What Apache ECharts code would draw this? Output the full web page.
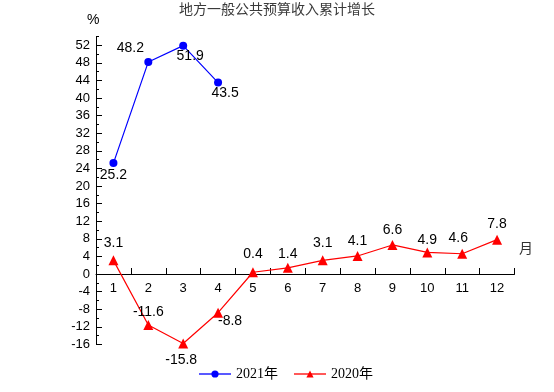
<!DOCTYPE html>
<html>
<head>
<meta charset="utf-8">
<script src="https://cdn.jsdelivr.net/npm/echarts@6/dist/echarts.min.js"></script>
<style>html,body{margin:0;padding:0;background:#fff}#c{width:554px;height:392px}</style>
</head>
<body>
<div id="c"></div>
<script>
var months = ['1','2','3','4','5','6','7','8','9','10','11','12'];
var s2021Name = '2021年';
var s2020Name = '2020年';
var s2021 = [25.2, 48.2, 51.9, 43.5];
var s2020 = [3.1, -11.6, -15.8, -8.8, 0.4, 1.4, 3.1, 4.1, 6.6, 4.9, 4.6, 7.8];
var yMajorTicks = [-16,-12,-8,-4,0,4,8,12,16,20,24,28,32,36,40,44,48,52];
var yMinorTicks = [-16,-14,-12,-10,-8,-6,-4,-2,0,2,4,6,8,10,12,14,16,18,20,22,24,26,28,30,32,34,36,38,40,42,44,46,48,50,52,54];
var yMin = -16, yMax = 54;

// label placement styles (separate from values)
var lab2021 = [
  {position:'bottom', offset:[0,-4]},
  {position:'top', offset:[-18,2]},
  {position:'bottom', offset:[7,-5]},
  {position:'bottom', offset:[7,-5]}
];
var lab2020 = [
  {position:'top', offset:[0,0]},
  {position:'top', offset:[0,4]},
  {position:'bottom', offset:[-2,0]},
  {position:'bottom', offset:[12,-9]},
  {position:'top', offset:[0,-1]},
  {position:'top', offset:[0,3]},
  {position:'top', offset:[0,0]},
  {position:'top', offset:[0,2]},
  {position:'top', offset:[0,2]},
  {position:'top', offset:[0,5]},
  {position:'top', offset:[-4,1]},
  {position:'top', offset:[0,1]}
];
function build(vals, labs){
  return vals.map(function(v,i){ return {value:v, label:labs[i]}; });
}
var gridTop = 36.4, gridBottom = 47.6, chartH = 392;
var plotH = chartH - gridTop - gridBottom;
// move x axis from grid bottom up to the zero line
var zeroOffset = -plotH * (0 - yMin) / (yMax - yMin);

var fontLat = 'Liberation Sans, Arial, sans-serif';
var chart = echarts.init(document.getElementById('c'));
chart.setOption({
  animation:false,
  backgroundColor:'#fff',
  title:{text:'地方一般公共预算收入累计增长', left:'center', top:2, padding:0,
    textStyle:{fontSize:14, fontWeight:'normal', color:'#3a3a3a', fontFamily:'Noto Sans CJK SC'}},
  grid:{left:96, right:39.5, top:gridTop, bottom:gridBottom, containLabel:false, outerBoundsMode:'none'},
  legend:{top:367, left:198, itemWidth:32, itemHeight:9, itemGap:15, padding:0,
    lineStyle:{opacity:0.65},
    textStyle:{fontSize:14, color:'#000', fontFamily:'Liberation Serif, Noto Sans CJK SC, serif'},
    data:[s2021Name, s2020Name]},
  graphic:[
    {type:'text', left:87, top:13, style:{text:'%', fontSize:14, fill:'#000', fontFamily:fontLat}},
    {type:'text', left:519, top:241, style:{text:'月', fontSize:14, fill:'#333', fontFamily:'Noto Sans CJK SC'}}
  ],
  xAxis:{type:'category', data:months, boundaryGap:true, position:'bottom', offset:zeroOffset,
    axisLine:{onZero:false, lineStyle:{color:'#000', width:1}},
    axisTick:{show:true, inside:true, length:6, interval:0, lineStyle:{color:'#000', width:1}},
    axisLabel:{color:'#000', fontSize:13, margin:8, fontFamily:fontLat},
    splitLine:{show:false}},
  yAxis:[
    {type:'value', position:'left', min:yMin, max:yMax, interval:2,
     axisLine:{show:true, lineStyle:{color:'#000', width:1}},
     axisTick:{show:true, inside:true, length:3, customValues:yMinorTicks, lineStyle:{color:'#000', width:1}},
     axisLabel:{show:false},
     splitLine:{show:false}},
    {type:'value', position:'left', min:yMin, max:yMax, interval:4,
     axisLine:{show:false},
     axisTick:{show:true, inside:true, length:6, customValues:yMajorTicks, lineStyle:{color:'#000', width:1}},
     axisLabel:{show:true, customValues:yMajorTicks, color:'#000', fontSize:13, margin:6, fontFamily:fontLat},
     splitLine:{show:false}}
  ],
  series:[
    {name:s2021Name, type:'line', yAxisIndex:0, data:build(s2021, lab2021),
     symbol:'circle', symbolSize:8, color:'#0000ff',
     lineStyle:{width:1.2, color:'#0000ff'}, itemStyle:{color:'#0000ff'},
     label:{show:true, fontSize:14, color:'#000', fontFamily:fontLat, distance:5}},
    {name:s2020Name, type:'line', yAxisIndex:0, data:build(s2020, lab2020),
     symbol:'triangle', symbolSize:10, color:'#ff0000',
     lineStyle:{width:1.2, color:'#ff0000'}, itemStyle:{color:'#ff0000'},
     label:{show:true, fontSize:14, color:'#000', fontFamily:fontLat, distance:5}}
  ]
});
</script>
</body>
</html>
